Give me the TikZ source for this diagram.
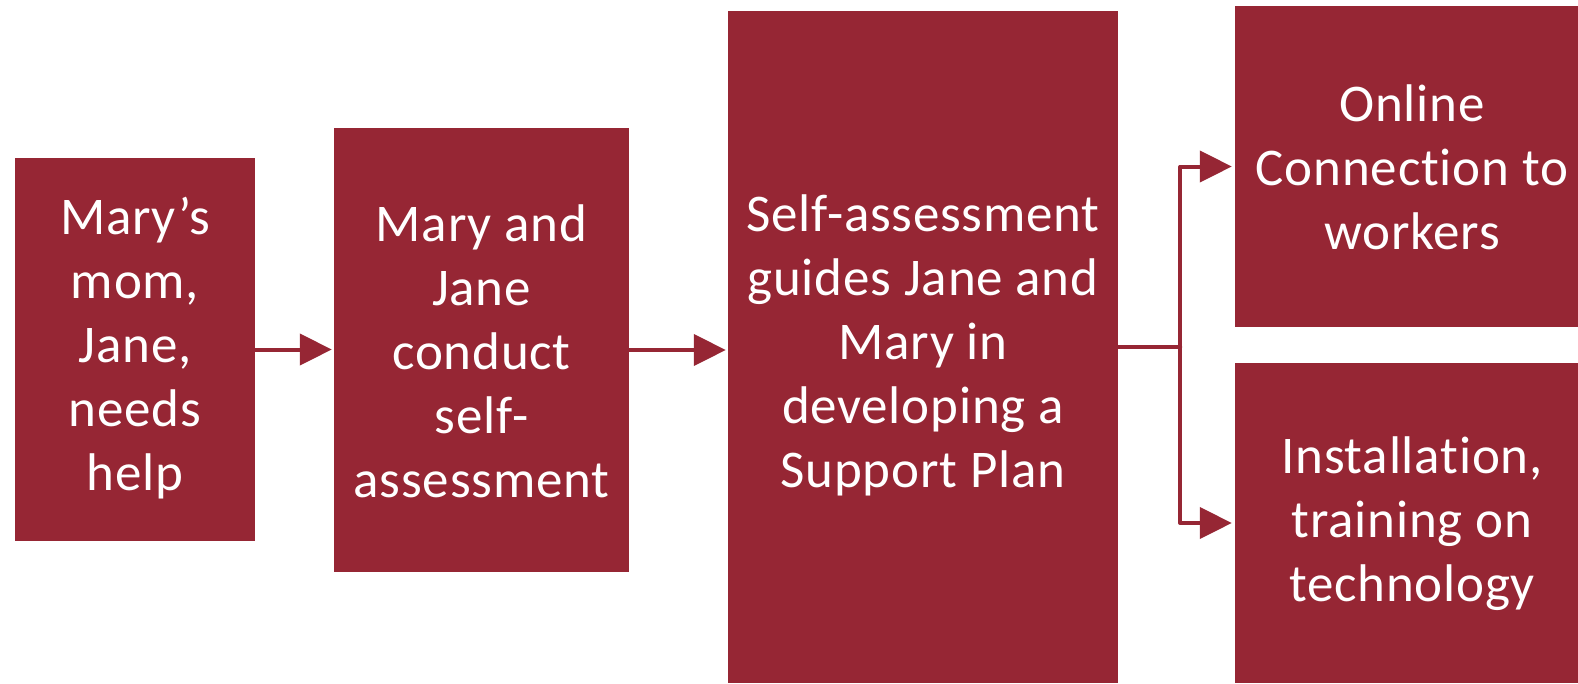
\documentclass[tikz,border=0pt]{standalone}
\usepackage{fontspec}
\setmainfont[LetterSpace=1.5,Ligatures=NoCommon]{Carlito}
\usetikzlibrary{arrows.meta}
\definecolor{boxred}{HTML}{962634}
\tikzset{
  stepbox/.style={rectangle, fill=boxred, draw=none, text=white, align=center,
    inner sep=0pt, font=\fontsize{53}{64}\selectfont},
  conn/.style={draw=boxred, line width=4pt, line cap=round, line join=round,
    -{Triangle[length=32pt,width=31pt]}},
}
\begin{document}
\begin{tikzpicture}[x=1pt,y=-1pt]
  \useasboundingbox (0,0) rectangle (1578,683);
  \begin{scope}
  \clip (0,0) rectangle (1578,683);
  % process boxes
  \node[stepbox, minimum width=240pt, minimum height=383pt] (b1) at (135,349.5) {};
  \node[stepbox, minimum width=295pt, minimum height=444pt] (b2) at (481.5,350) {};
  \node[stepbox, minimum width=390pt, minimum height=672pt] (b3) at (923,347) {};
  \node[stepbox, minimum width=343pt, minimum height=321pt] (b4) at (1406.5,166.5) {};
  \node[stepbox, minimum width=343pt, minimum height=320pt] (b5) at (1406.5,523) {};
  \end{scope}
  % labels
  \node[stepbox, fill=none] (t1) at ([yshift=1pt]b1) {Mary’s\\mom,\\Jane,\\needs\\help};
  \node[stepbox, fill=none] (t2) at ([yshift=-1pt]b2) {Mary and\\Jane\\conduct\\self-\\assessment};
  \node[stepbox, fill=none] (t3) at ([yshift=2pt]b3) {Self-assessment\\guides Jane and\\Mary in\\developing a\\Support Plan};
  \node[stepbox, fill=none] (t4) at (1412,167.5) {Online\\Connection to\\workers};
  \node[stepbox, fill=none] (t5) at (1412,524) {Installation,\\training on\\technology};
  % connectors
  \draw[conn, shorten >=2pt] (b1.east) -- (b1.east -| b2.west);
  \draw[conn, shorten >=2pt] (b2.east) -- (b2.east -| b3.west);
  \coordinate (fork) at ([xshift=62pt]b3.east);
  \draw[draw=boxred, line width=4pt, line cap=round] (b3.east) -- (fork);
  \draw[conn, shorten >=3pt] (fork) |- (b4.west);
  \draw[conn, shorten >=3pt] (fork) |- (b5.west);
\end{tikzpicture}
\end{document}
